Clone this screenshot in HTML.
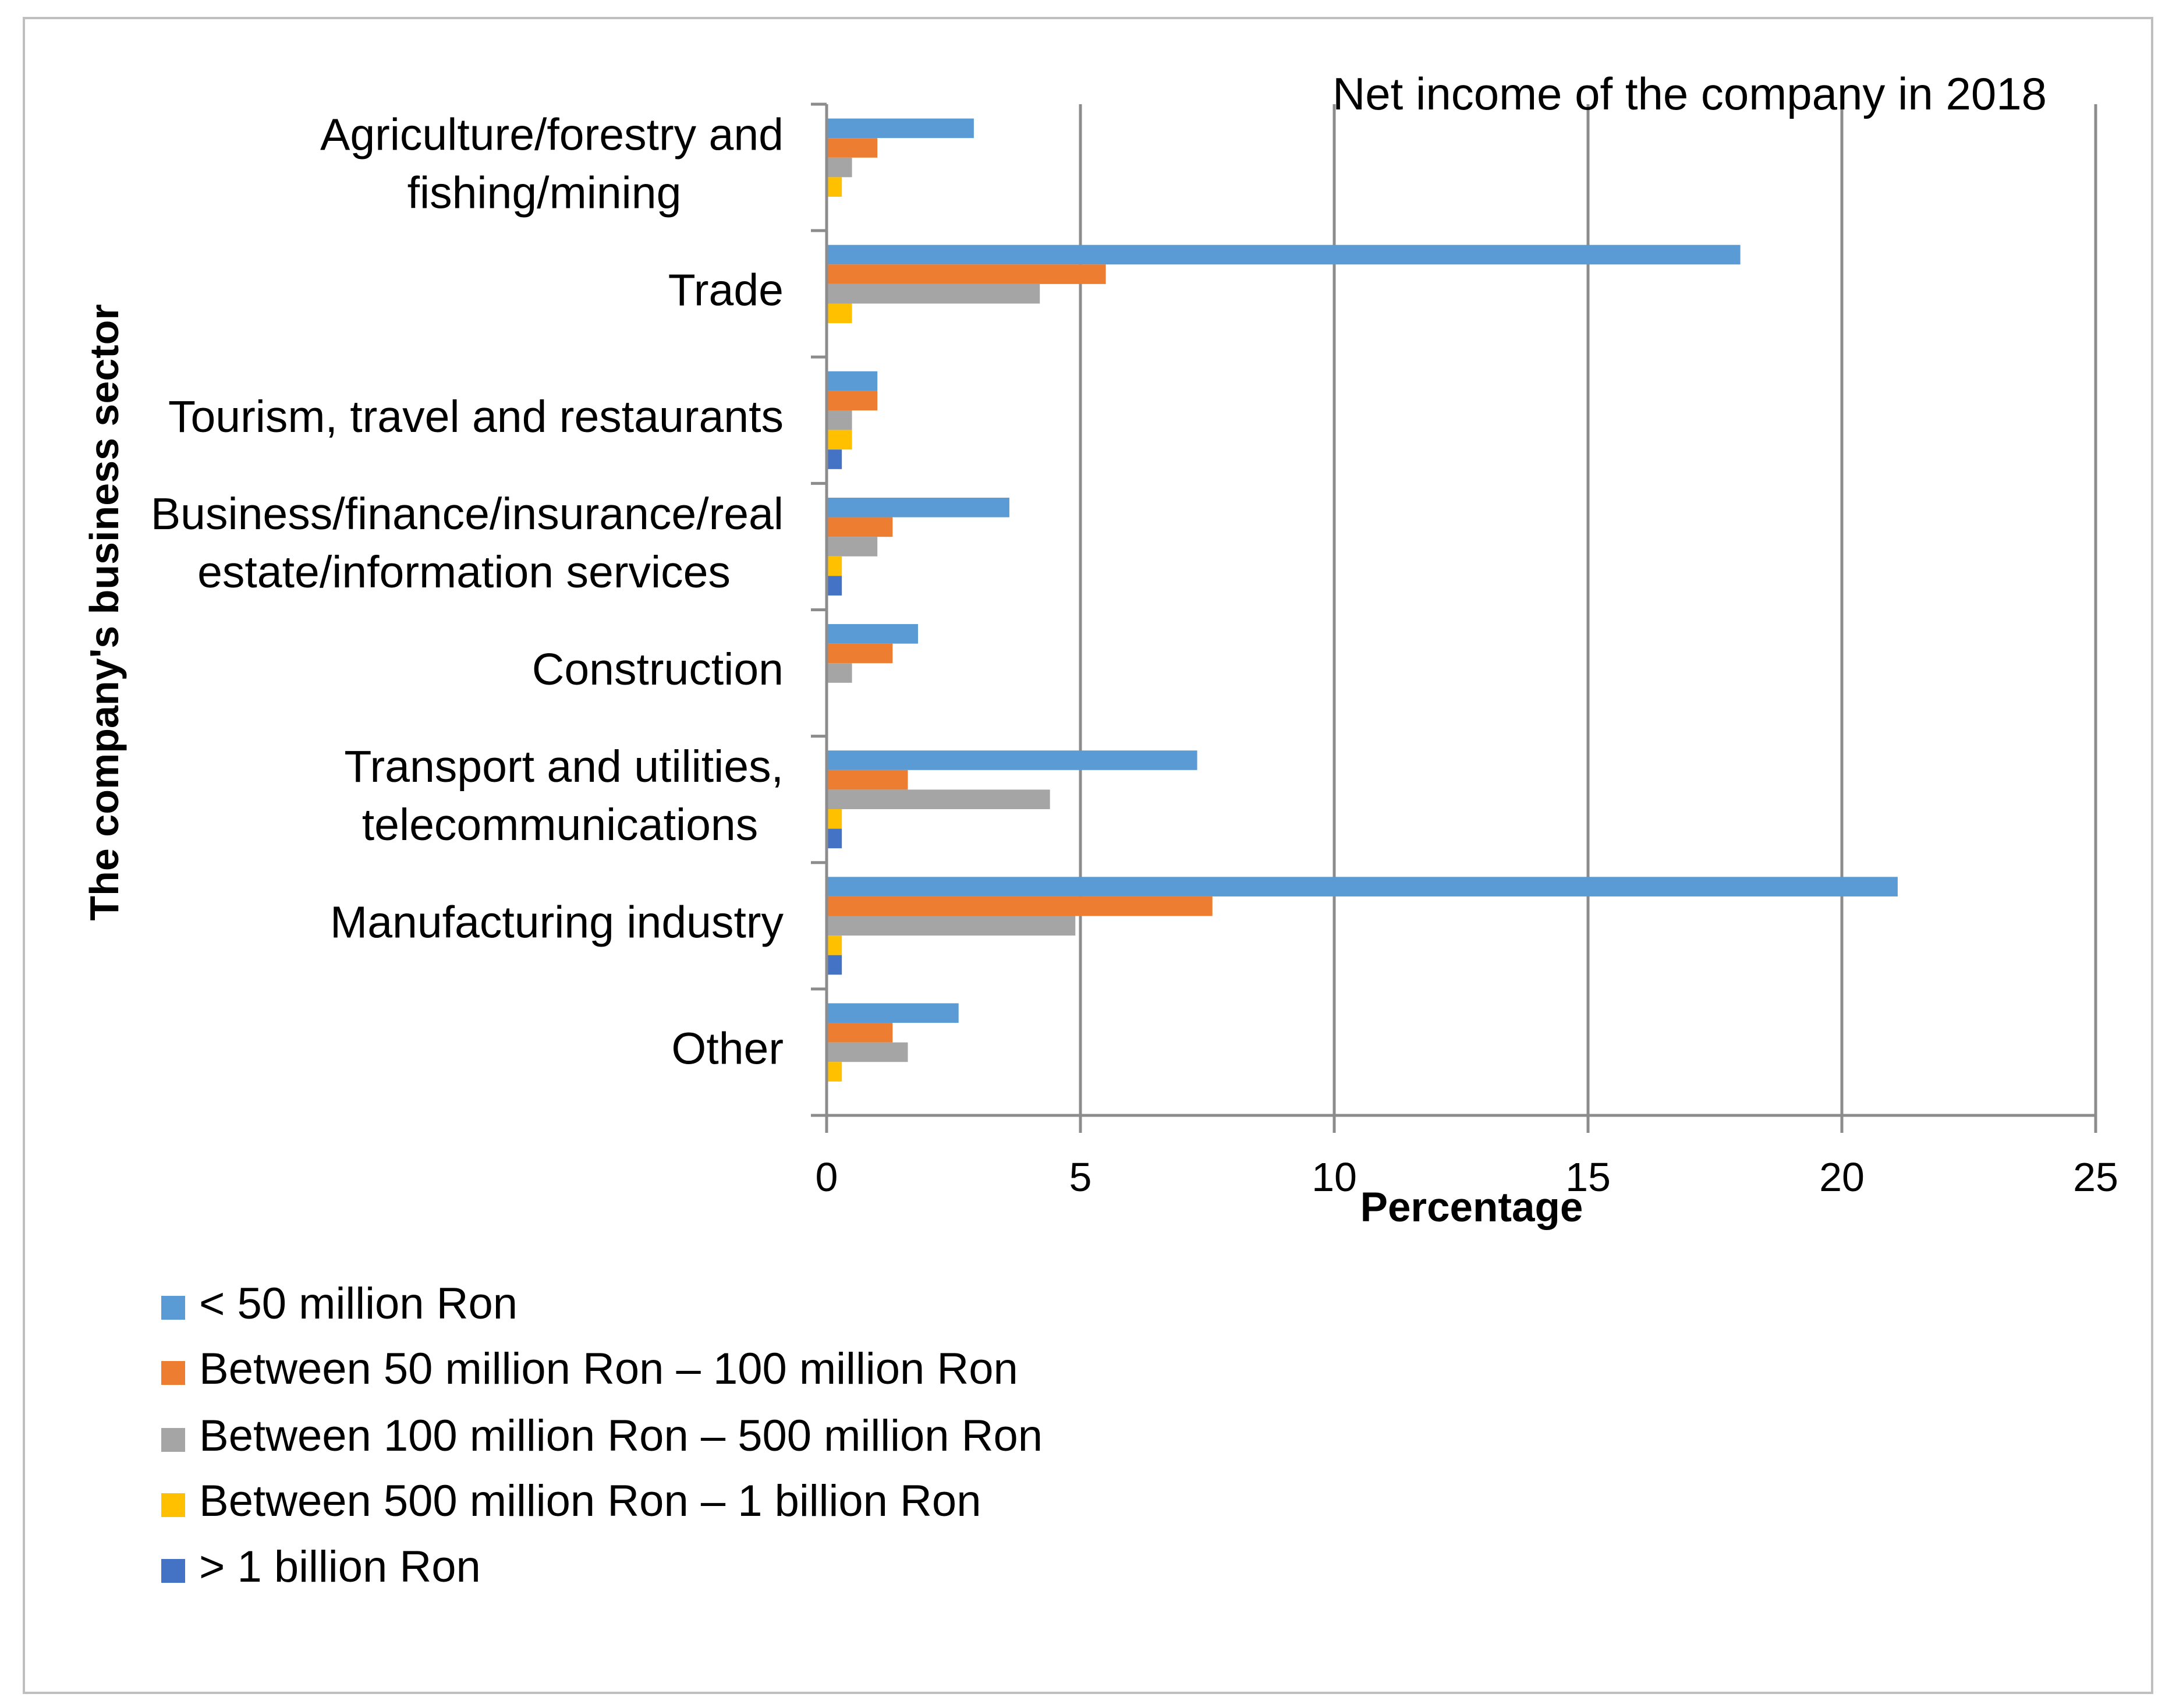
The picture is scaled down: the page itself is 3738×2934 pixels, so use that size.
<!DOCTYPE html>
<html><head><meta charset="utf-8"><style>
body{margin:0;background:#fff}
svg text{font-family:"Liberation Sans",sans-serif;fill:#000}
</style></head><body>
<svg id="chart" width="3738" height="2929" viewBox="0 0 3738 2929" xmlns="http://www.w3.org/2000/svg">
<rect x="41" y="31" width="3656" height="2877" fill="#fff" stroke="#bfbfbf" stroke-width="4"/>
<g id="grid"></g><g id="bars"></g><g id="axes"></g><g id="labels"></g>
<text x="3516" y="188" text-anchor="end" font-size="78">Net income of the company in 2018</text>
<text x="2528" y="2098" text-anchor="middle" font-size="71" font-weight="bold">Percentage</text>
<text transform="translate(203,1052) rotate(-90)" text-anchor="middle" font-size="70" font-weight="bold">The company's business sector</text>
<g id="legend"></g>
</svg>
<script>
const categories=[["Agriculture/forestry and","fishing/mining"],["Trade"],["Tourism, travel and restaurants"],["Business/finance/insurance/real","estate/information services"],["Construction"],["Transport and utilities,","telecommunications"],["Manufacturing industry"],["Other"]];
const seriesNames=["< 50 million Ron","Between 50 million Ron – 100 million Ron","Between 100 million Ron – 500 million Ron","Between 500 million Ron – 1 billion Ron","> 1 billion Ron"];
const s1=[2.9,18.0,1.0,3.6,1.8,7.3,21.1,2.6];
const s2=[1.0,5.5,1.0,1.3,1.3,1.6,7.6,1.3];
const s3=[0.5,4.2,0.5,1.0,0.5,4.4,4.9,1.6];
const s4=[0.3,0.5,0.5,0.3,0,0.3,0.3,0.3];
const s5=[0,0,0.3,0.3,0,0.3,0.3,0];
const xTicks=[0,5,10,15,20,25];
const colors=["#5b9bd5","#ed7d31","#a5a5a5","#ffc000","#4472c4"];
const NS="http://www.w3.org/2000/svg";
const X0=1420,X1=3600,Y0=179,Y1=1916,XMAX=25;
const band=(Y1-Y0)/categories.length,barH=33.6,pad=(band-5*barH)/2;
const xs=v=>X0+v/XMAX*(X1-X0);
function mk(tag,attrs,parent){const e=document.createElementNS(NS,tag);for(const k in attrs)e.setAttribute(k,attrs[k]);document.getElementById(parent).appendChild(e);return e;}
xTicks.forEach(t=>{
 if(t>0){const g=mk('line',{x1:xs(t),x2:xs(t),y1:Y0,y2:Y1,stroke:'#8c8c8c','stroke-width':5},'grid');
 
 }
 const tk=mk('line',{x1:xs(t),x2:xs(t),y1:Y1,y2:Y1+30,stroke:'#8c8c8c','stroke-width':5},'axes');
 
 
 const tl=mk('text',{x:xs(t),y:2046,'text-anchor':'middle','font-size':70},'labels');tl.textContent=t;
 
 
});
const series=[s1,s2,s3,s4,s5];
series.forEach((s,si)=>s.forEach((v,ci)=>{
 if(v<=0)return;
 const r=mk('rect',{x:X0,y:Y0+ci*band+pad+si*barH,width:xs(v)-X0,height:barH,fill:colors[si]},'bars');
 
 
}));
const ax=mk('line',{x1:X0,x2:X0,y1:Y0,y2:Y1+30,stroke:'#8c8c8c','stroke-width':5},'axes');


const bx=mk('line',{x1:1393,x2:X1,y1:Y1,y2:Y1,stroke:'#8c8c8c','stroke-width':5},'axes');


for(let i=0;i<categories.length;i++){
 const ct=mk('line',{x1:1393,x2:X0,y1:Y0+i*band,y2:Y0+i*band,stroke:'#8c8c8c','stroke-width':5},'axes');
 
 
}
const secondCenters={0:935,3:797,5:962};
categories.forEach((c,ci)=>{
 const cy=Y0+ci*band+band/2;
 c.forEach((line,li)=>{
  const y=cy+(li-(c.length-1)/2)*100+20;
  const second=c.length>1&&li==1;
  const t=mk('text',{x:second?secondCenters[ci]:1346,y:y,'text-anchor':second?'middle':'end','font-size':77},'labels');
  t.textContent=line;
  
  
 });
});
const ly=[2246,2358,2473,2585,2698];
seriesNames.forEach((n,i)=>{
 const sw=mk('rect',{x:277,y:ly[i]-20,width:41,height:41,fill:colors[i]},'legend');
 
 
 const t=mk('text',{x:342,y:ly[i]+19,'font-size':76},'legend');t.textContent=n;
 
 
});
</script>
</body></html>
